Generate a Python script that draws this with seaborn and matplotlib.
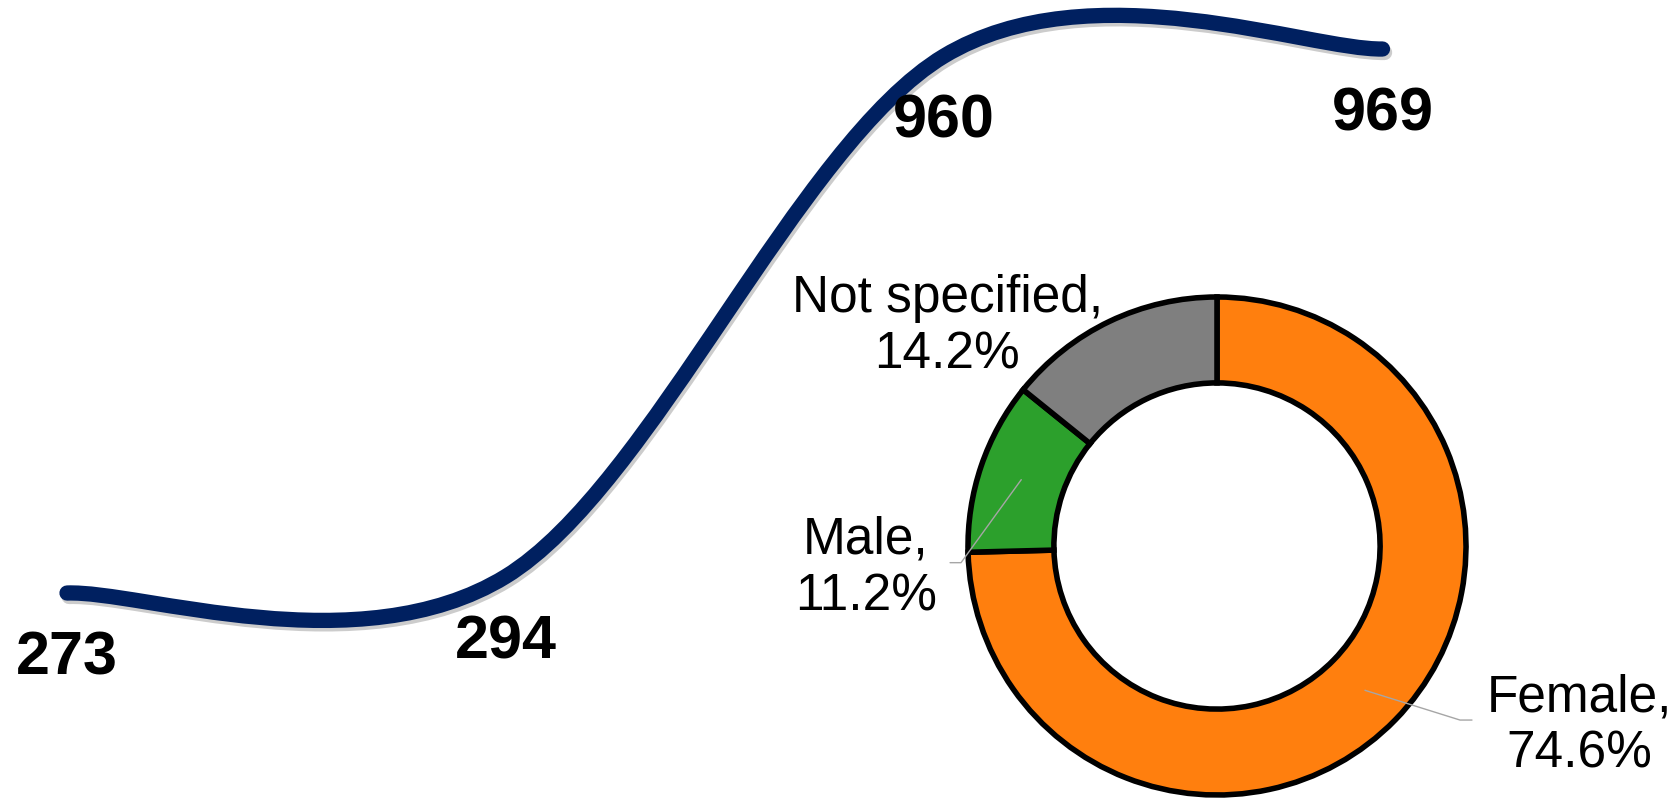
import numpy as np
import seaborn as sns
import matplotlib.pyplot as plt
import matplotlib.patheffects as pe
from matplotlib.path import Path
from matplotlib.patches import PathPatch

# Data
periods = [0, 1, 2, 3]  # four reporting periods (no axis shown)
counts = [273, 294, 960, 969]

gender = ['Female', 'Male', 'Not specified']
gender_share = [74.6, 11.2, 14.2]

# label placement for the donut (pie-axes coordinates)
label_xy = [(1.454, -0.723), (-1.41, -0.09), (-1.084, 0.88)]
# elbow of the leader lines (None = no leader)
leader_elbow = [((0.976, -0.699), (1.024, -0.699)),
                ((-1.028, -0.067), (-1.072, -0.067)),
                None]

sns.set_theme(style='white')
plt.rcParams['font.family'] = ['Liberation Sans', 'DejaVu Sans']

tab = sns.color_palette('tab10')
donut_colors = [tab[1], tab[2], tab[7]]
navy = '#002060'


def smooth_path(xs, ys):
    # Excel-style smoothed line: cubic bezier through every point
    pts = np.column_stack([xs, ys]).astype(float)
    ext = np.vstack([pts[0], pts, pts[-1]])
    verts = [pts[0]]
    codes = [Path.MOVETO]
    for i in range(len(pts) - 1):
        p0, p1, p2, p3 = ext[i], ext[i + 1], ext[i + 2], ext[i + 3]
        verts += [p1 + (p2 - p0) / 6, p2 - (p3 - p1) / 6, p2]
        codes += [Path.CURVE4] * 3
    return Path(verts, codes)


fig = plt.figure(figsize=(16.77, 8), dpi=100)

# line chart
ax = fig.add_axes([0, 0, 1, 1])
ax.set_xlim(-0.1528, 3.6716)
ax.set_ylim(8.2, 1031.7)
ax.axis('off')

curve = PathPatch(smooth_path(periods, counts), fill=False, edgecolor=navy,
                  linewidth=11, capstyle='round', joinstyle='round',
                  path_effects=[pe.SimpleLineShadow(offset=(1.5, -2.5), shadow_color='black', alpha=0.2),
                                pe.Normal()])
ax.add_patch(curve)

for x, v in zip(periods, counts):
    ax.annotate(f'{v}', (x, v), xytext=(0, -27), textcoords='offset points',
                ha='center', va='top', fontsize=44, fontweight='bold', color='black')

# donut chart
ax2 = fig.add_axes([968 / 1677, 5 / 800, 498 / 1677, 498 / 800])
ax2.pie(gender_share, colors=donut_colors, startangle=90, counterclock=False,
        wedgeprops=dict(width=0.345, edgecolor='black', linewidth=4))
ax2.set_xlim(-1, 1)
ax2.set_ylim(-1, 1)
ax2.axis('off')

cum = np.cumsum([0] + gender_share)
for i, (name, share) in enumerate(zip(gender, gender_share)):
    mid = np.deg2rad(90 - 3.6 * (cum[i] + cum[i + 1]) / 2)
    if leader_elbow[i] is not None:
        (ex, ey), (tx, ty) = leader_elbow[i]
        ax2.plot([0.83 * np.cos(mid), ex, tx], [0.83 * np.sin(mid), ey, ty],
                 color='#A6A6A6', linewidth=1, clip_on=False)
    lx, ly = label_xy[i]
    ax2.text(lx, ly, f'{name},\n{share}%', ha='center', va='center',
             fontsize=37, color='black', linespacing=1.2)

fig.savefig('out.png', dpi=100)
